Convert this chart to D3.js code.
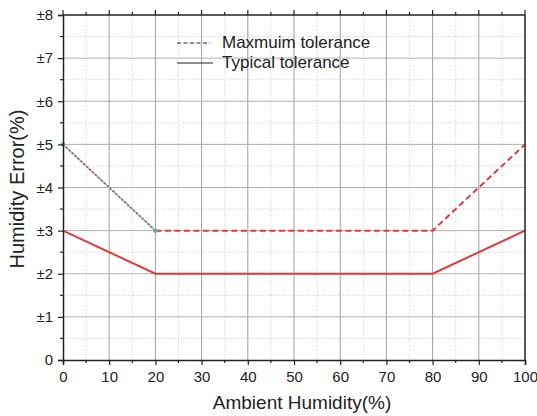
<html>
<head>
<script src="https://d3js.org/d3.v7.min.js" charset="utf-8"></script>
<style>
  body { margin: 0; background: #fff; }
  text { font-family: "Liberation Sans", Arial, sans-serif; fill: #222; }
</style>
</head>
<body>
<div id="graph"></div>
<script>
// data
const humidity = [0, 20, 80, 100];
const maxTolerance = [5, 3, 3, 5];
const typTolerance = [3, 2, 2, 3];
const xTicks = [0, 10, 20, 30, 40, 50, 60, 70, 80, 90, 100];
const yTicks = [0, 1, 2, 3, 4, 5, 6, 7, 8];
const yTickLabels = ['0', '±1', '±2', '±3', '±4', '±5', '±6', '±7', '±8'];
const legendNames = ['Maxmuim tolerance', 'Typical tolerance'];

const w = 537, h = 416;
const pLeft = 63, pRight = 525, pTop = 15, pBottom = 360;

const x = d3.scaleLinear().domain([0, 100]).range([pLeft, pRight]);
const y = d3.scaleLinear().domain([0, 8]).range([pBottom, pTop]);

const svg = d3.select('#graph').append('svg').attr('width', w).attr('height', h);

// minor grid (dotted)
const g = svg.append('g');
d3.range(5, 100, 10).forEach(v => {
  g.append('line').attr('x1', x(v)).attr('x2', x(v)).attr('y1', pTop).attr('y2', pBottom)
    .attr('stroke', '#d0d0d0').attr('stroke-dasharray', '1,1.5');
});
d3.range(0.5, 8, 1).forEach(v => {
  g.append('line').attr('x1', pLeft).attr('x2', pRight).attr('y1', y(v)).attr('y2', y(v))
    .attr('stroke', '#d0d0d0').attr('stroke-dasharray', '1,1.5');
});
// major grid
xTicks.slice(1, -1).forEach(v => {
  g.append('line').attr('x1', x(v)).attr('x2', x(v)).attr('y1', pTop).attr('y2', pBottom)
    .attr('stroke', '#a0a0a0').attr('stroke-width', 1);
});
yTicks.slice(1, -1).forEach(v => {
  g.append('line').attr('x1', pLeft).attr('x2', pRight).attr('y1', y(v)).attr('y2', y(v))
    .attr('stroke', '#b0b0b0').attr('stroke-width', 1);
});

// lines
const pts = (ys) => humidity.map((d, i) => [d, ys[i]]);
const line = d3.line().x(d => x(d[0])).y(d => y(d[1]));
const maxPts = pts(maxTolerance);

// first segment has a light blue line under the dashes
svg.append('path').attr('d', line(maxPts.slice(0, 2)))
  .attr('fill', 'none').attr('stroke', '#9cc3e0').attr('stroke-width', 1.6);
svg.append('path').attr('d', line(maxPts.slice(0, 2)))
  .attr('fill', 'none').attr('stroke', '#b5523f').attr('stroke-width', 1.6)
  .attr('stroke-dasharray', '2,2');
svg.append('path').attr('d', line(maxPts.slice(1)))
  .attr('fill', 'none').attr('stroke', '#e03a3e').attr('stroke-width', 2)
  .attr('stroke-dasharray', '6,3.5');
svg.selectAll('.mk').data(maxPts.slice(0, 2)).enter().append('circle')
  .attr('cx', d => x(d[0])).attr('cy', d => y(d[1])).attr('r', 2.2)
  .attr('fill', '#5fae94');

svg.append('path').attr('d', line(pts(typTolerance)))
  .attr('fill', 'none').attr('stroke', '#e03a3e').attr('stroke-width', 2);

// axes
const xAxis = d3.axisBottom(x).tickValues(xTicks).tickSize(5).tickPadding(6);
const yAxis = d3.axisLeft(y).tickValues(yTicks).tickSize(5).tickPadding(5)
  .tickFormat((d, i) => yTickLabels[i]);

const ax = svg.append('g').attr('transform', 'translate(0,' + pBottom + ')').call(xAxis);
const ay = svg.append('g').attr('transform', 'translate(' + pLeft + ',0)').call(yAxis);
[ax, ay].forEach(a => {
  a.select('.domain').attr('stroke', '#222').attr('stroke-width', 1.5);
  a.selectAll('.tick line').attr('stroke', '#222').attr('stroke-width', 1.2);
  a.selectAll('text').attr('font-size', 15).attr('fill', '#222')
    .attr('font-family', '"Liberation Sans", Arial, sans-serif');
});
// minor ticks
d3.range(5, 100, 10).forEach(v => {
  svg.append('line').attr('x1', x(v)).attr('x2', x(v)).attr('y1', pBottom).attr('y2', pBottom + 3)
    .attr('stroke', '#222').attr('stroke-width', 1.2);
  svg.append('line').attr('x1', x(v)).attr('x2', x(v)).attr('y1', pTop).attr('y2', pTop - 3)
    .attr('stroke', '#222').attr('stroke-width', 1.2);
});
xTicks.forEach(v => {
  svg.append('line').attr('x1', x(v)).attr('x2', x(v)).attr('y1', pTop).attr('y2', pTop - 5)
    .attr('stroke', '#222').attr('stroke-width', 1.2);
});
d3.range(0.5, 8, 1).forEach(v => {
  svg.append('line').attr('x1', pLeft).attr('x2', pLeft - 3).attr('y1', y(v)).attr('y2', y(v))
    .attr('stroke', '#222').attr('stroke-width', 1.2);
});
// top and right frame
svg.append('line').attr('x1', pLeft).attr('x2', pRight).attr('y1', pTop).attr('y2', pTop)
  .attr('stroke', '#222').attr('stroke-width', 1.5);
svg.append('line').attr('x1', pRight).attr('x2', pRight).attr('y1', pTop).attr('y2', pBottom)
  .attr('stroke', '#222').attr('stroke-width', 1.5);

// axis titles
svg.append('text').attr('x', 302).attr('y', 409)
  .attr('text-anchor', 'middle').attr('font-size', 19).text('Ambient Humidity(%)');
svg.append('text').attr('transform', 'translate(24,189) rotate(-90)')
  .attr('text-anchor', 'middle').attr('font-size', 20).text('Humidity Error(%)');

// legend
const lg = svg.append('g');
legendNames.forEach((name, i) => {
  const ly = 43 + i * 20;
  lg.append('line').attr('x1', 177).attr('x2', i === 0 ? 210 : 213).attr('y1', ly).attr('y2', ly)
    .attr('stroke', '#222').attr('stroke-width', 1.2)
    .attr('stroke-dasharray', i === 0 ? '4,2.5' : null);
  lg.append('text').attr('x', 222).attr('y', ly + 5).attr('font-size', 17).text(name);
});
</script>
</body>
</html>
